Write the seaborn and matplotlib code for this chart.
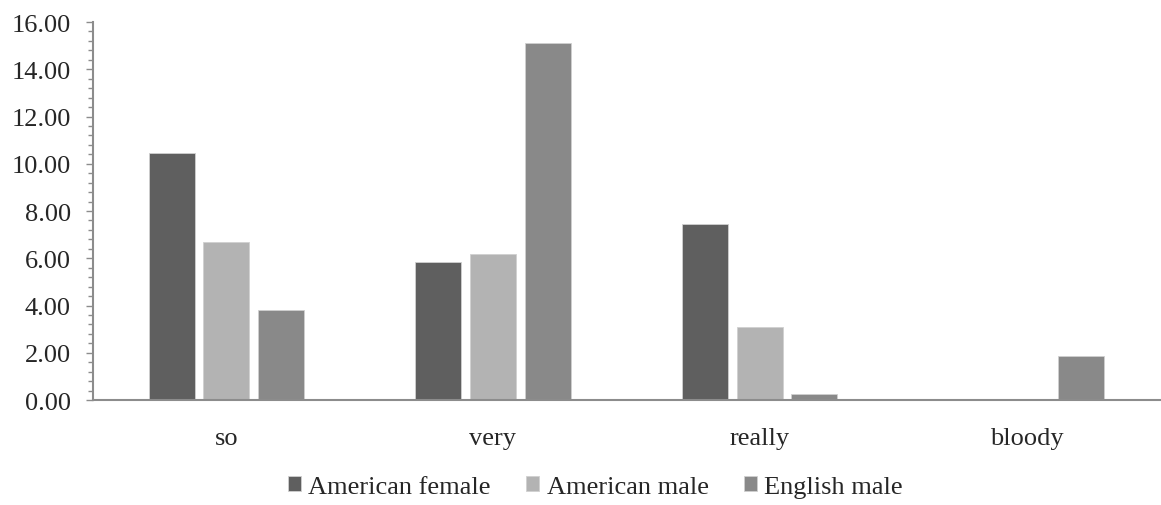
import matplotlib
matplotlib.use("Agg")

import matplotlib.pyplot as plt
import seaborn as sns
import pandas as pd
from matplotlib.ticker import MultipleLocator, FormatStrFormatter

categories = ["so", "very", "really", "bloody"]
series = ["American female", "American male", "English male"]
american_female = [10.45, 5.85, 7.43, 0.04]
american_male = [6.70, 6.20, 3.09, 0.0]
english_male = [3.82, 15.12, 0.25, 1.86]
colors = ["#5f5f5f", "#b3b3b3", "#898989"]

df = pd.DataFrame({
    "word": categories * 3,
    "group": [s for s in series for _ in categories],
    "value": american_female + american_male + english_male,
})

sns.set_style("white")
plt.rcParams["font.family"] = ["Liberation Serif", "DejaVu Serif"]

fig = plt.figure(figsize=(11.61, 5.06), dpi=100)
ax = fig.add_axes([0.080, 0.2075, 0.919, 0.747])

sns.barplot(data=df, x="word", y="value", hue="group", order=categories,
            hue_order=series, palette=colors, width=0.614, gap=0.16,
            edgecolor="#d0d0d0", linewidth=0.6, saturation=1, ax=ax)

ax.set_ylim(0, 16)
ax.set_xlim(-0.5, 3.5)
ax.yaxis.set_major_locator(MultipleLocator(2))
ax.yaxis.set_minor_locator(MultipleLocator(0.4))
ax.yaxis.set_major_formatter(FormatStrFormatter("%.2f"))
ax.tick_params(axis="y", which="major", left=True, length=5, width=1,
               color="#8c8c8c", labelsize=19, pad=11)
ax.tick_params(axis="y", which="minor", left=True, length=3.5, width=1,
               color="#8c8c8c")
ax.tick_params(axis="x", bottom=False, labelsize=19, pad=16)
ax.set_xlabel("")
ax.set_ylabel("")

for side in ["top", "right"]:
    ax.spines[side].set_visible(False)
for side in ["left", "bottom"]:
    ax.spines[side].set_color("#8c8c8c")
    ax.spines[side].set_linewidth(1.5)

ax.legend(loc="center", bbox_to_anchor=(0.471, -0.230), ncol=3,
          frameon=False, fontsize=19, handlelength=0.5, handleheight=0.5,
          handletextpad=0.27, columnspacing=1.35)

plt.savefig("out.png", dpi=100)
plt.close()
